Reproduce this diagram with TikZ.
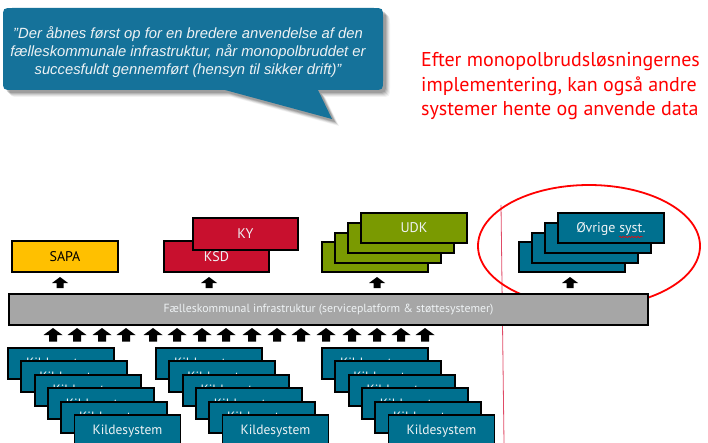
\documentclass[tikz,border=0pt]{standalone}
\usepackage{fontspec}
\setmainfont{PT Sans}
\newfontfamily\arialfont{Liberation Sans}
\usetikzlibrary{decorations.pathmorphing}
\definecolor{cblue}{HTML}{00708F}
\definecolor{callblue}{HTML}{15729A}
\definecolor{cred}{HTML}{C8102E}
\definecolor{cgreen}{HTML}{7A9A01}
\definecolor{cyellow}{HTML}{FFC000}
\definecolor{cgray}{HTML}{A6A6A6}
\definecolor{ltext}{HTML}{EEF2F4}
\definecolor{vline}{HTML}{E04A66}
\tikzset{
  sysbox/.style={draw=black, line width=1.9pt, minimum width=106pt, minimum height=30pt,
    inner sep=0pt, text height=9.5pt, text depth=0pt, anchor=north west, text=ltext, font=\fontsize{14}{15}\selectfont},
  kbox/.style={sysbox, fill=cblue, minimum height=31pt, text height=9pt, font=\fontsize{13.5}{15}\selectfont},
  uparrS/.pic={\fill[black] (0,0) -- (8,6) -- (3.5,6) -- (3.5,11) -- (-3.5,11) -- (-3.5,6) -- (-8,6) -- cycle;},
  uparrL/.pic={\fill[black] (0,0) -- (9.5,7) -- (4,7) -- (4,13.5) -- (-4,13.5) -- (-4,7) -- (-9.5,7) -- cycle;}
}
\def\calloutpath{(13,8) -- (373,8) .. controls (383,8) .. (383,18) -- (383,80) .. controls (383,90) .. (373,90) -- (318,90) -- (332,119) -- (225,90) -- (13,90) .. controls (3,90) .. (3,80) -- (3,18) .. controls (3,8) .. (13,8) -- cycle}
\begin{document}
\begin{tikzpicture}[x=1pt,y=-1pt]
\useasboundingbox (0,0) rectangle (708,443);
% callout shadow
\foreach \d/\o in {7/0.05,6/0.07,5/0.09,4/0.11,3/0.13}{
  \fill[black, opacity=\o, shift={(\d pt,-\d pt)}] \calloutpath;
}
\fill[callblue] \calloutpath;
\node[align=center, text=ltext, font=\arialfont\itshape\fontsize{14.8}{18}\selectfont] (quote) at (188,52)
  {”Der åbnes først op for en bredere anvendelse af den\\fælleskommunale infrastruktur, når monopolbruddet er\\succesfuldt gennemført (hensyn til sikker drift)”};
% red note
\node[anchor=base west, align=left, text=red, font=\fontsize{20}{24.5}\selectfont, inner sep=0pt] (note) at (421,116)
  {Efter monopolbrudsløsningernes\\implementering, kan også andre\\systemer hente og anvende data};
% vertical line
\draw[vline, line width=0.8pt] (501,205) -- (504,443);
% upper systems
\node[sysbox, fill=cyellow, minimum width=106pt, minimum height=31pt, text=black] (sapa) at (11,240) {SAPA};
\node[sysbox, fill=cred, minimum width=105pt, minimum height=31pt] (ksd) at (163,240) {KSD};
\node[sysbox, fill=cred, minimum width=105pt, minimum height=32pt] (ky) at (192,217) {KY};
\node[sysbox, fill=cgreen] (udk4) at (321,241) {};
\node[sysbox, fill=cgreen] (udk3) at (334,232) {};
\node[sysbox, fill=cgreen] (udk2) at (347,222) {};
\node[sysbox, fill=cgreen] (udk) at (360,212) {UDK};
\node[sysbox, fill=cblue] (ov4) at (518,241) {};
\node[sysbox, fill=cblue] (ov3) at (531,232) {};
\node[sysbox, fill=cblue] (ov2) at (544,222) {};
\node[sysbox, fill=cblue] (ov) at (557,212) {Øvrige syst.};
\draw[red, line width=0.5pt, decorate, decoration={snake, amplitude=0.7pt, segment length=3pt}] (619,237) -- (643,237);
% ellipse
\draw[red, line width=1.8pt] (589,246) ellipse [x radius=111, y radius=61];
% upper arrows
\pic (a1) at (60,277) {uparrS};
\pic (a2) at (209,277) {uparrS};
\pic (a3) at (377,277) {uparrS};
\pic (a4) at (570,277) {uparrS};
% infrastructure
\node[draw=black, line width=1.9pt, fill=cgray, anchor=north west, minimum width=639pt, minimum height=31pt, inner sep=0pt,
  text=ltext, font=\fontsize{11.8}{12}\selectfont] (infra) at (8,293) {Fælleskommunal infrastruktur (serviceplatform \& støttesystemer)};
% lower arrows
\foreach \x [count=\n] in {53,77,102,126,153,177,202,226,252,277,301,326,352,377,401,425}{
  \pic (b\n) at (\x,328) {uparrL};
}
% Kildesystem stacks
\foreach \s [count=\k] in {7,155,321}{
  \foreach \i in {0,...,5}{
    \node[kbox] (k\k-\i) at ({\s+13.3*\i},{347+13.4*\i}) {Kildesystem};
  }
}
\end{tikzpicture}
\end{document}
